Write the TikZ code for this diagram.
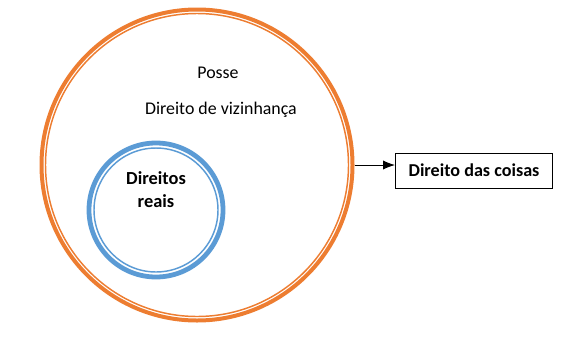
\documentclass[tikz,border=0pt]{standalone}
\usepackage{fontspec}
\setmainfont{Carlito}
\usetikzlibrary{positioning,arrows.meta}
\definecolor{orng}{HTML}{ED7D31}
\definecolor{blu}{HTML}{5B9BD5}
\tikzset{
  ring/.style={circle, draw, inner sep=0pt},
  lbl/.style={font=\fontsize{13.4}{16}\selectfont, align=center},
  box/.style={draw, line width=0.75pt, minimum height=35*0.75pt, minimum width=157*0.75pt, font=\fontsize{13.6}{16}\selectfont\bfseries},
  arr/.style={-{Latex[length=9pt,width=7pt]}, line width=0.75pt},
}

\begin{document}
\begin{tikzpicture}[x=0.75pt, y=-0.75pt]
  \useasboundingbox (0,0) rectangle (570,350);
  % outer ring
  \node[ring, orng, line width=3pt, minimum size=311*0.75pt] (outer) at (197,165) {};
  \node[ring, orng, line width=1.1pt, minimum size=303*0.75pt] (outerin) at (197,165) {};
  % inner ring
  \node[ring, blu, line width=3.6pt, minimum size=134*0.75pt] (inner) at (156,210) {};
  \node[ring, blu, line width=1.1pt, minimum size=124*0.75pt] (innerin) at (156,210) {};
  % texts
  \node[lbl] (posse) at (218,73) {Posse};
  \node[lbl] (viz) at (221,110) {Direito de vizinhança};
  \node[lbl, font=\fontsize{13.8}{17.3}\selectfont\bfseries] (reais) at (156,190) {Direitos\\reais};
  \node[box] (coisas) at (474,170.5) {Direito das coisas};
  \draw[arr] (outer.east) -- (outer.east -| coisas.west);
\end{tikzpicture}
\end{document}
